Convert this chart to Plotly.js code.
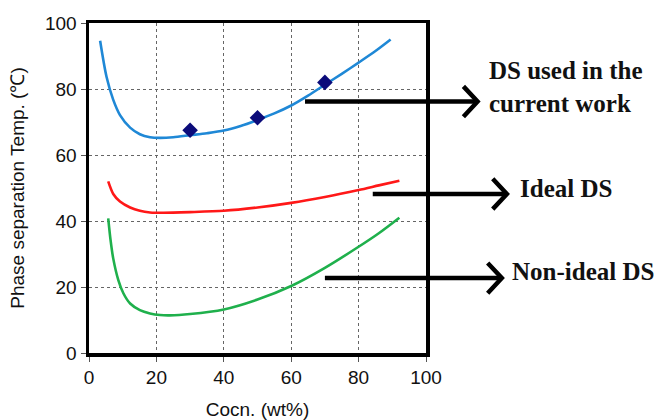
<!DOCTYPE html>
<html>
<head>
<meta charset="utf-8">
<script src="https://cdn.plot.ly/plotly-3.0.1.min.js"></script>
<style>html,body{margin:0;padding:0;background:#fff;}#chart{width:657px;height:420px;}</style>
</head>
<body>
<div id="chart"></div>
<script>
// ---- data ----
const blueX = [3.3, 5.2, 7.2, 9.2, 12.2, 15.1, 18.1, 21.1, 25, 30, 35, 40, 45, 50, 55, 60, 65, 70, 75, 80, 85, 89.5];
const blueY = [94.6, 83.7, 76.7, 72.1, 68.3, 66.3, 65.4, 65.2, 65.4, 66, 66.6, 67.4, 68.8, 70.6, 72.6, 75, 78, 81.3, 84.6, 88, 91.5, 95];
const redX = [5.7, 7.2, 9.2, 12.2, 15.1, 18.1, 22.1, 30, 40, 50, 60, 70, 80, 86, 92.1];
const redY = [52, 48.2, 45.9, 44.1, 43.1, 42.6, 42.5, 42.7, 43.1, 44.1, 45.5, 47.3, 49.4, 50.8, 52.2];
const greenX = [5.7, 6.4, 7.2, 8.7, 10.2, 12.2, 15.1, 18.1, 21.1, 24, 30, 40, 50, 60, 70, 80, 86, 92.1];
const greenY = [40.8, 34.2, 28.6, 22.1, 18.1, 15, 13, 12, 11.5, 11.4, 11.8, 13.2, 16.2, 20.3, 25.8, 32.2, 36.3, 41];
const markX = [30, 50, 70];
const markY = [67.5, 71.3, 82];
const labels = ["DS used in the<br>current work", "Ideal DS", "Non-ideal DS"];
// arrows: tail (data units), tip x, label position
const arrowTailX = [64.1, 84.2, 70];
const arrowY = [76.2, 48.2, 22.7];
const arrowTipX = [115.3, 124, 122.5];
const labelX = [118.2, 127.2, 124.8];
const labelY = [80.6, 49.7, 24.8];
const xTicks = [0, 20, 40, 60, 80, 100];
const yTicks = [0, 20, 40, 60, 80, 100];

const traces = [
  {x: blueX, y: blueY, mode: 'lines', line: {color: '#1f88d6', width: 2.6, shape: 'spline', smoothing: 0.8}, hoverinfo: 'skip'},
  {x: redX, y: redY, mode: 'lines', line: {color: '#ff1818', width: 2.6, shape: 'spline', smoothing: 0.8}, hoverinfo: 'skip'},
  {x: greenX, y: greenY, mode: 'lines', line: {color: '#1fb04c', width: 2.6, shape: 'spline', smoothing: 0.8}, hoverinfo: 'skip'},
  {x: markX, y: markY, mode: 'markers', marker: {symbol: 'diamond', size: 12, color: '#0b0b7a', line: {width: 0}}}
];

const P = v => v / 100; // data (0-100 range) -> paper
const shapes = [];
const annotations = [];
for (let i = 0; i < 3; i++) {
  const y = arrowY[i];
  shapes.push({type: 'line', xref: 'paper', yref: 'paper', x0: P(arrowTailX[i]), x1: P(arrowTipX[i]), y0: P(y), y1: P(y),
    line: {color: '#000', width: 4.5}});
  const dx = 4.2, dy = 4.6;
  shapes.push({type: 'path', xref: 'paper', yref: 'paper',
    path: `M ${P(arrowTipX[i]-dx)} ${P(y+dy)} L ${P(arrowTipX[i])} ${P(y)} L ${P(arrowTipX[i]-dx)} ${P(y-dy)}`,
    line: {color: '#000', width: 4.5}});
  annotations.push({xref: 'paper', yref: 'paper', x: P(labelX[i]), y: P(labelY[i]), text: '<b>' + labels[i] + '</b>',
    showarrow: false, xanchor: 'left', yanchor: 'middle', align: 'left',
    font: {family: 'Liberation Serif, Times New Roman, serif', size: 25, color: '#111'}});
}

const tickFont = {family: 'Liberation Sans, Arial, sans-serif', size: 19, color: '#111'};
const titleFont = {family: 'Liberation Sans, Arial, sans-serif', size: 19, color: '#111'};
const axisCommon = {
  range: [0, 100], showgrid: true, gridcolor: '#666', gridwidth: 1, griddash: 'dot',
  showline: true, linecolor: '#000', linewidth: 3.5, mirror: true,
  ticks: 'outside', ticklen: 5, tickwidth: 1, tickcolor: '#555',
  zeroline: false, tickfont: tickFont, automargin: false, fixedrange: true
};

const layout = {
  width: 657, height: 420,
  margin: {l: 89, r: 231, t: 23, b: 67},
  paper_bgcolor: '#fff', plot_bgcolor: '#fff',
  showlegend: false,
  xaxis: Object.assign({}, axisCommon, {tickvals: xTicks, title: {text: 'Cocn. (wt%)', font: titleFont, standoff: 22}}),
  yaxis: Object.assign({}, axisCommon, {tickvals: yTicks, title: {text: 'Phase separation Temp. (℃)', font: titleFont, standoff: 16}}),
  shapes: shapes,
  annotations: annotations
};

Plotly.newPlot('chart', traces, layout, {staticPlot: true, displayModeBar: false});
</script>
</body>
</html>
